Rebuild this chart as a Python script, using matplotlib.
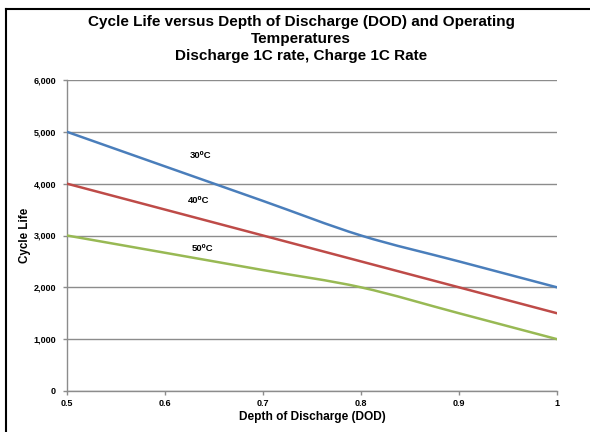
import matplotlib
matplotlib.use("Agg")
import matplotlib.pyplot as plt
from matplotlib.lines import Line2D
from matplotlib.path import Path
from matplotlib.patches import PathPatch

plt.rcParams['font.family'] = ['Liberation Sans', 'DejaVu Sans']

dod = [0.5, 0.6, 0.7, 0.8, 0.9, 1.0]
life_30 = [5000, 4333, 3667, 3000, 2500, 2000]
life_40 = [4000, 3500, 3000, 2500, 2000, 1500]
life_50 = [3000, 2667, 2333, 2000, 1500, 1000]
series_labels = ["30⁰C", "40⁰C", "50⁰C"]
label_pos = [(0.636, 4540), (0.634, 3670), (0.638, 2740)]
colors = ["#4A7EBB", "#BE4B48", "#98B954"]
xticks = [0.5, 0.6, 0.7, 0.8, 0.9, 1.0]
xticklabels = ["0.5", "0.6", "0.7", "0.8", "0.9", "1"]
yticks = [0, 1000, 2000, 3000, 4000, 5000, 6000]
yticklabels = ["0", "1,000", "2,000", "3,000", "4,000", "5,000", "6,000"]


def smooth_path(xs, ys):
    """Excel-style smoothed line: cubic Bezier segments through the data points."""
    n = len(xs)
    verts = [(xs[0], ys[0])]
    codes = [Path.MOVETO]
    for i in range(n - 1):
        x0, y0 = (xs[i - 1], ys[i - 1]) if i > 0 else (xs[i], ys[i])
        x1, y1 = xs[i], ys[i]
        x2, y2 = xs[i + 1], ys[i + 1]
        x3, y3 = (xs[i + 2], ys[i + 2]) if i + 2 < n else (xs[i + 1], ys[i + 1])
        c1 = (x1 + (x2 - x0) / 6, y1 + (y2 - y0) / 6)
        c2 = (x2 - (x3 - x1) / 6, y2 - (y3 - y1) / 6)
        verts += [c1, c2, (x2, y2)]
        codes += [Path.CURVE4] * 3
    return Path(verts, codes)


fig = plt.figure(figsize=(5.9, 4.32), dpi=100)
ax = fig.add_axes([67/590, 1-391/432, (557-67)/590, (391-80)/432])

for ys, c in zip([life_30, life_40, life_50], colors):
    ax.add_patch(PathPatch(smooth_path(dod, ys), fill=False, edgecolor=c, lw=1.8,
                           capstyle='round', joinstyle='round', zorder=3))

for lab, (x, y) in zip(series_labels, label_pos):
    ax.text(x, y, lab, ha='center', va='center', fontsize=6.8, fontweight='bold',
            family=['Liberation Sans', 'DejaVu Sans'])

ax.set_xlim(0.5, 1.0)
ax.set_ylim(0, 6000)
ax.set_xticks(xticks)
ax.set_xticklabels(xticklabels, fontsize=6.5, fontweight='bold')
ax.set_yticks(yticks)
ax.set_yticklabels(yticklabels, fontsize=6.5, fontweight='bold')
ax.yaxis.grid(True, color='#8c8c8c', lw=1.0)
ax.set_axisbelow(True)
for s in ['top', 'right']:
    ax.spines[s].set_visible(False)
for s in ['left', 'bottom']:
    ax.spines[s].set_color('#8c8c8c')
    ax.spines[s].set_linewidth(1.0)
ax.tick_params(axis='both', color='#8c8c8c', length=3, width=1.0)
ax.tick_params(axis='y', pad=5)
ax.tick_params(axis='x', pad=3)

ax.set_xlabel("Depth of Discharge (DOD)", fontsize=8.6, fontweight='bold', labelpad=2)
ax.set_ylabel("Cycle Life", fontsize=8.4, fontweight='bold', labelpad=1.8)

fig.text(301/590, 1-39/432, "Cycle Life versus Depth of Discharge (DOD) and Operating\nTemperatures\nDischarge 1C rate, Charge 1C Rate",
         ha='center', va='center', fontsize=11, fontweight='bold', linespacing=1.25)

# partial frame: top and left border lines
fig.add_artist(Line2D([6/590, 6/590], [0, 1-9/432], transform=fig.transFigure, color='black', lw=1.5))
fig.add_artist(Line2D([6/590, 1], [1-9/432, 1-9/432], transform=fig.transFigure, color='black', lw=1.5))

fig.savefig("out.png", dpi=100)
